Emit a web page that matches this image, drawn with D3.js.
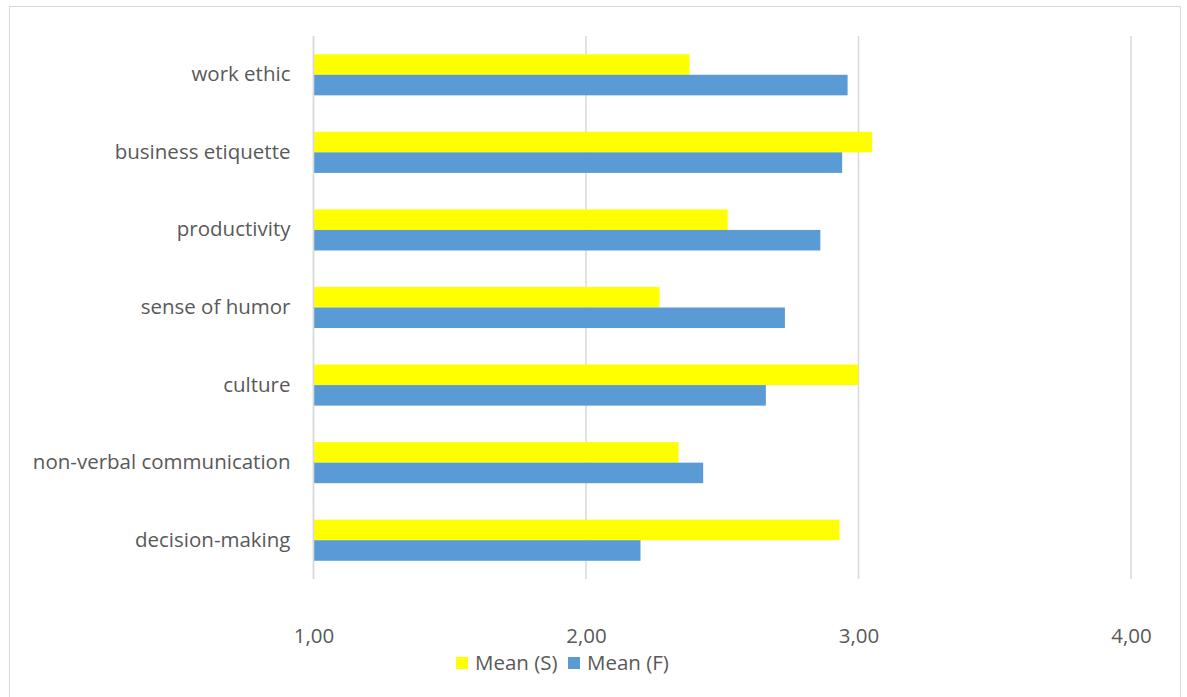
<!DOCTYPE html>
<html>
<head>
<meta charset="utf-8">
<script src="https://cdn.jsdelivr.net/npm/d3@7"></script>
<style>
  html, body { margin: 0; padding: 0; background: #fff; }
  svg { display: block; }
  text { font-family: "Open Sans", "Liberation Sans", sans-serif; fill: #595959; }
</style>
</head>
<body>
<svg id="chart" width="1187" height="697"></svg>
<script>
// Skill categories, top to bottom
const categories = [
  "work ethic",
  "business etiquette",
  "productivity",
  "sense of humor",
  "culture",
  "non-verbal communication",
  "decision-making"
];
// Mean scores per category
const meanS = [2.38, 3.05, 2.52, 2.27, 3.00, 2.34, 2.93];
const meanF = [2.96, 2.94, 2.86, 2.73, 2.66, 2.43, 2.20];
const seriesNames = ["Mean (S)", "Mean (F)"];
const seriesColors = ["#FFFF00", "#5B9BD5"];
const xTicks = [1, 2, 3, 4];

const svg = d3.select("#chart");
const W = 1187, H = 697;
const fontSize = "20.5px";

// chart frame
svg.append("rect")
  .attr("x", 9.5).attr("y", 6.5)
  .attr("width", 1171).attr("height", H + 10)
  .attr("fill", "#fff").attr("stroke", "#d9d9d9").attr("stroke-width", 1);

const plot = { left: 313.5, right: 1131, top: 36, bottom: 579 };

const x = d3.scaleLinear().domain([1, 4]).range([plot.left, plot.right]);
const y = d3.scaleBand().domain(categories)
  .range([plot.top, plot.bottom])
  .paddingInner(0.47).paddingOuter(0.235);
const ySub = d3.scaleBand().domain(seriesNames).range([0, y.bandwidth()]);

// vertical gridlines
svg.append("g").selectAll("line")
  .data(xTicks).join("line")
  .attr("x1", d => x(d)).attr("x2", d => x(d))
  .attr("y1", plot.top).attr("y2", plot.bottom)
  .attr("stroke", "#d9d9d9").attr("stroke-width", 1.5);

// bars
const rows = categories.map((c, i) => ({ c, values: [meanS[i], meanF[i]] }));
const groups = svg.append("g").selectAll("g")
  .data(rows).join("g")
  .attr("transform", d => `translate(0,${y(d.c)})`);
groups.selectAll("rect")
  .data(d => d.values.map((v, k) => ({ v, k })))
  .join("rect")
  .attr("x", x(1))
  .attr("y", d => ySub(seriesNames[d.k]))
  .attr("width", d => x(d.v) - x(1))
  .attr("height", ySub.bandwidth())
  .attr("fill", d => seriesColors[d.k]);

// category axis line
svg.append("line")
  .attr("x1", x(1)).attr("x2", x(1))
  .attr("y1", plot.top).attr("y2", plot.bottom)
  .attr("stroke", "#d9d9d9").attr("stroke-width", 1.5);

// category labels
const yAxis = svg.append("g")
  .attr("transform", `translate(${x(1) - 23},0)`)
  .call(d3.axisLeft(y).tickSize(0).tickPadding(0));
yAxis.select(".domain").remove();
yAxis.selectAll("text")
  .style("font-size", fontSize)
  .attr("fill", "#595959");

// value axis labels
const fmt = d => d3.format(".2f")(d).replace(".", ",");
const xAxis = svg.append("g")
  .attr("transform", `translate(0,${plot.bottom})`)
  .call(d3.axisBottom(x).tickValues(xTicks).tickFormat(fmt).tickSize(0).tickPadding(57));
xAxis.select(".domain").remove();
xAxis.selectAll("text")
  .style("font-size", fontSize)
  .attr("fill", "#595959")
  .attr("dy", "0.32em");

// legend
const legend = svg.append("g").attr("transform", "translate(456,663)");
const legendX = [0, 112];
const items = legend.selectAll("g")
  .data(seriesNames).join("g")
  .attr("transform", (d, i) => `translate(${legendX[i]},0)`);
items.append("rect")
  .attr("x", 0).attr("y", -6)
  .attr("width", 12).attr("height", 12)
  .attr("fill", (d, i) => seriesColors[i]);
items.append("text")
  .attr("x", 19).attr("y", 0).attr("dy", "0.35em")
  .style("font-size", fontSize)
  .text(d => d);
</script>
</body>
</html>
